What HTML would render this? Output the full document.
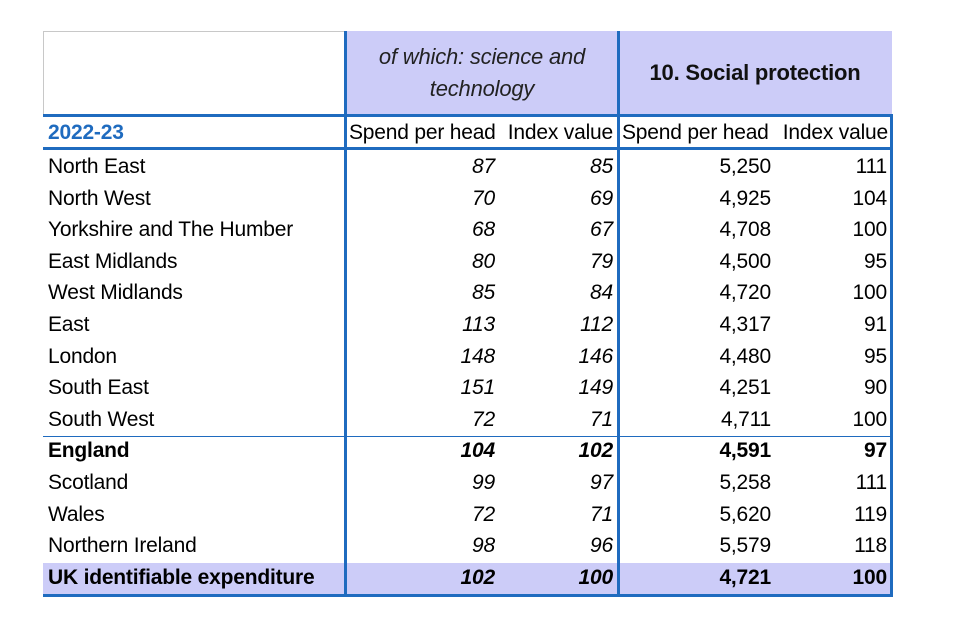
<!DOCTYPE html>
<html><head><meta charset="utf-8"><style>
body{margin:0;width:960px;height:640px;background:#fff;position:relative;overflow:hidden;font-family:"Liberation Sans",sans-serif;color:#000}
.a{position:absolute}
.t{position:absolute;font-size:21px;line-height:32px;white-space:nowrap;letter-spacing:-0.2px}
.r{text-align:right}
.i{font-style:italic}
.b{font-weight:bold}
</style></head><body>
<div class="a" style="left:345px;top:31px;width:547px;height:84px;background:#ccccf8"></div>
<div class="a" style="left:43px;top:563px;width:849px;height:32px;background:#ccccf8"></div>
<div class="a" style="left:43px;top:31px;width:302px;height:1px;background:#c8c8c8"></div>
<div class="a" style="left:43px;top:31px;width:1px;height:84px;background:#c8c8c8"></div>
<div class="a" style="left:43px;top:114px;width:849px;height:3px;background:#1f6bbf"></div>
<div class="a" style="left:43px;top:147px;width:849px;height:3px;background:#1f6bbf"></div>
<div class="a" style="left:43px;top:436px;width:849px;height:1px;background:#1f6bbf"></div>
<div class="a" style="left:43px;top:594px;width:849px;height:3px;background:#1f6bbf"></div>
<div class="a" style="left:344px;top:31px;width:3px;height:566px;background:#1f6bbf"></div>
<div class="a" style="left:617px;top:31px;width:3px;height:566px;background:#1f6bbf"></div>
<div class="a" style="left:890px;top:114px;width:3px;height:483px;background:#1f6bbf"></div>
<div class="t i" style="left:347px;top:41px;width:270px;text-align:center;line-height:32px;font-size:22px;color:#222">of which: science and<br>technology</div>
<div class="t b" style="left:620px;top:57px;width:270px;text-align:center;font-size:22px;color:#111">10. Social protection</div>
<div class="t b" style="left:48px;top:117px;color:#1f6bbf">2022-23</div>
<div class="t" style="left:349px;top:117px">Spend per head</div>
<div class="t r" style="left:480px;top:117px;width:133px">Index value</div>
<div class="t" style="left:622px;top:117px">Spend per head</div>
<div class="t r" style="left:760px;top:117px;width:128px">Index value</div>
<div id="rows"></div>
<script>
var d=[["North East",87,85,"5,250",111],["North West",70,69,"4,925",104],["Yorkshire and The Humber",68,67,"4,708",100],["East Midlands",80,79,"4,500",95],["West Midlands",85,84,"4,720",100],["East",113,112,"4,317",91],["London",148,146,"4,480",95],["South East",151,149,"4,251",90],["South West",72,71,"4,711",100],["England",104,102,"4,591",97],["Scotland",99,97,"5,258",111],["Wales",72,71,"5,620",119],["Northern Ireland",98,96,"5,579",118],["UK identifiable expenditure",102,100,"4,721",100]];
var h="";
d.forEach(function(r,k){var y=151+k*31.6;var b=(k==9||k==13)?" b":"";
h+='<div class="t'+b+'" style="left:48px;top:'+y+'px">'+r[0]+'</div>';
h+='<div class="t r i'+b+'" style="left:395px;top:'+y+'px;width:100px">'+r[1]+'</div>';
h+='<div class="t r i'+b+'" style="left:513px;top:'+y+'px;width:100px">'+r[2]+'</div>';
h+='<div class="t r'+b+'" style="left:671px;top:'+y+'px;width:100px">'+r[3]+'</div>';
h+='<div class="t r'+b+'" style="left:787px;top:'+y+'px;width:100px">'+r[4]+'</div>';});
document.getElementById("rows").innerHTML=h;
</script>
</body></html>
